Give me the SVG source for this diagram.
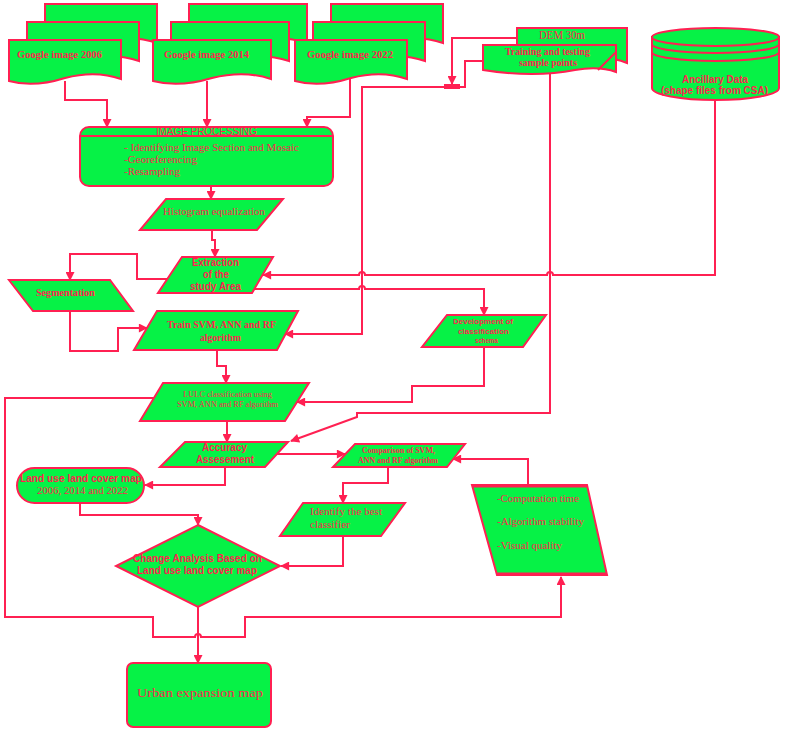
<svg xmlns="http://www.w3.org/2000/svg" xmlns:xlink="http://www.w3.org/1999/xlink" width="789" height="734" viewBox="0 0 789 734">
<style>
.n{fill:#06F246;stroke:#FF2052;stroke-width:2;stroke-linejoin:miter}
.c{fill:none;stroke:#FF2052;stroke-width:2}
.t{fill:#FF1F4F}
.sb{font-family:"Liberation Serif","Times New Roman",serif;font-weight:bold}
.sr{font-family:"Liberation Serif","Times New Roman",serif}
.ab{font-family:"Liberation Sans",Arial,sans-serif;font-weight:bold}
.ar{font-family:"Liberation Sans",Arial,sans-serif}
</style>
<defs>
<marker id="ah" viewBox="0 0 10 10" refX="9" refY="5" markerWidth="10" markerHeight="9" markerUnits="userSpaceOnUse" orient="auto">
<path d="M0,0 L10,5 L0,10 Z" fill="#FF2052"/>
</marker>
<path id="doc112" d="M0,0 H112 V39 C95,33 75,33 56,38 C37,44 18,46 0,41 Z"/>
<path id="doc118" d="M0,0 H118 V39 C100,33 79,33 59,38 C39,44 19,46 0,41 Z"/>
</defs>

<g id="connectors">
<path class="c" d="M65,81 V100 H107 V127" marker-end="url(#ah)"/>
<path class="c" d="M207,81 V127" marker-end="url(#ah)"/>
<path class="c" d="M350,78 V117 H307 V127" marker-end="url(#ah)"/>
<path class="c" d="M211,186 V199" marker-end="url(#ah)"/>
<path class="c" d="M212,230 V240 H215 V257" marker-end="url(#ah)"/>
<path class="c" d="M167,279 H137 V254 H70 V280" marker-end="url(#ah)"/>
<path class="c" d="M70,311 V351 H118 V328 H147" marker-end="url(#ah)"/>
<path class="c" d="M715,100 V275 H553 a3,3 0 0 0 -6,0 H365 a3,3 0 0 0 -6,0 H263" marker-end="url(#ah)"/>
<path class="c" d="M254,289 H359 a3,3 0 0 1 6,0 H484 V315" marker-end="url(#ah)"/>
<path class="c" d="M517,38 H452 V84" marker-end="url(#ah)"/>
<path class="c" d="M483,61 H465 V87 H459"/>
<rect x="444" y="84" width="16" height="5" fill="#FF2052"/>
<path class="c" d="M444,87 H362 V334 H285" marker-end="url(#ah)"/>
<path class="c" d="M217,350 V366 H226 V383" marker-end="url(#ah)"/>
<path class="c" d="M484,347 V386 H412 V402 H297" marker-end="url(#ah)"/>
<path class="c" d="M550,72 V413 H357 V417 L291,441" marker-end="url(#ah)"/>
<path class="c" d="M227,421 V442" marker-end="url(#ah)"/>
<path class="c" d="M154,398 H5 V617 H153 V637 H195 a3,3 0 0 1 6,0 H245 V617 H561 V577" marker-end="url(#ah)"/>
<path class="c" d="M277,454 H345" marker-end="url(#ah)"/>
<path class="c" d="M225,467 V485 H145" marker-end="url(#ah)"/>
<path class="c" d="M80,503 V515 H198 V525" marker-end="url(#ah)"/>
<path class="c" d="M388,467 V483 H343 V503" marker-end="url(#ah)"/>
<path class="c" d="M343,536 V566 H281" marker-end="url(#ah)"/>
<path class="c" d="M528,485 V459 H453" marker-end="url(#ah)"/>
<path class="c" d="M198,607 V663" marker-end="url(#ah)"/>
</g>

<g id="google2006">
<use xlink:href="#doc112" class="n" x="45" y="4"/>
<use xlink:href="#doc112" class="n" x="27" y="22"/>
<use xlink:href="#doc112" class="n" x="9" y="40"/>
<text class="t sb" x="17" y="58" font-size="11" textLength="85" lengthAdjust="spacingAndGlyphs">Google image 2006</text>
</g>
<g id="google2014">
<use xlink:href="#doc118" class="n" x="189" y="4"/>
<use xlink:href="#doc118" class="n" x="171" y="22"/>
<use xlink:href="#doc118" class="n" x="153" y="40"/>
<text class="t sb" x="164" y="58" font-size="11" textLength="85" lengthAdjust="spacingAndGlyphs">Google image 2014</text>
</g>
<g id="google2022">
<use xlink:href="#doc112" class="n" x="331" y="4"/>
<use xlink:href="#doc112" class="n" x="313" y="22"/>
<use xlink:href="#doc112" class="n" x="295" y="40"/>
<text class="t sb" x="307" y="58" font-size="11" textLength="86" lengthAdjust="spacingAndGlyphs">Google image 2022</text>
</g>

<g id="dem">
<path class="n" d="M517,28 H627 V63 C620,60 612,58 600,58 L517,58 Z"/>
<text class="t sr" x="539" y="39" font-size="12" textLength="46" lengthAdjust="spacingAndGlyphs">DEM 30m</text>
</g>
<g id="training">
<path class="n" d="M483,45 H616 V72 C605,68 592,67 575,70 C545,76 515,75 483,70 Z"/>
<path class="c" d="M598,70 L616,52"/>
<text class="t sb" x="505" y="55" font-size="10" textLength="85" lengthAdjust="spacingAndGlyphs">Training and testing</text>
<text class="t sb" x="519" y="66" font-size="10" textLength="58" lengthAdjust="spacingAndGlyphs">sample points</text>
</g>

<g id="ancillary">
<path class="n" d="M652,37 V88 A63.5,12 0 0 0 779,88 V37 Z"/>
<ellipse class="n" cx="715.5" cy="37" rx="63.5" ry="9"/>
<path class="c" d="M652,44 A63.5,9 0 0 0 779,44"/>
<path class="c" d="M652,52 A63.5,9 0 0 0 779,52"/>
<text class="t ab" x="682" y="83" font-size="10" textLength="66" lengthAdjust="spacingAndGlyphs">Ancillary Data</text>
<text class="t ab" x="661" y="94" font-size="10" textLength="107" lengthAdjust="spacingAndGlyphs">(shape files from CSA)</text>
</g>

<g id="imageprocessing">
<rect class="n" x="80" y="127" width="253" height="59" rx="9"/>
<path class="c" d="M80,136 H333" stroke-width="1.5"/>
<text class="t ar" x="156" y="135" font-size="10" textLength="101" lengthAdjust="spacingAndGlyphs">IMAGE PROCESSING</text>
<text class="t sr" x="124" y="151" font-size="11" textLength="175" lengthAdjust="spacingAndGlyphs">- Identifying Image Section and Mosaic</text>
<text class="t sr" x="124" y="163" font-size="11" textLength="73" lengthAdjust="spacingAndGlyphs">-Georeferencing</text>
<text class="t sr" x="124" y="175" font-size="11" textLength="56" lengthAdjust="spacingAndGlyphs">-Resampling</text>
</g>

<g id="histogram">
<polygon class="n" points="166,199 283,199 257,230 140,230"/>
<text class="t sr" x="163" y="215" font-size="11" textLength="102" lengthAdjust="spacingAndGlyphs">Histogram equalization</text>
</g>

<g id="extraction">
<polygon class="n" points="182,257 273,257 252,293 158,293"/>
<text class="t ab" x="192" y="266" font-size="10" textLength="47" lengthAdjust="spacingAndGlyphs">Extraction</text>
<text class="t ab" x="203" y="278" font-size="10" textLength="26" lengthAdjust="spacingAndGlyphs">of the</text>
<text class="t ab" x="190" y="290" font-size="10" textLength="51" lengthAdjust="spacingAndGlyphs">study Area</text>
</g>

<g id="segmentation">
<polygon class="n" points="9,280 110,280 133,311 33,311"/>
<text class="t sb" x="36" y="296" font-size="11" textLength="59" lengthAdjust="spacingAndGlyphs">Segmentation</text>
</g>

<g id="train">
<polygon class="n" points="157,311 298,311 277,350 134,350"/>
<text class="t sb" x="167" y="328" font-size="10" textLength="109" lengthAdjust="spacingAndGlyphs">Train SVM, ANN and RF</text>
<text class="t sb" x="200" y="341" font-size="10" textLength="41" lengthAdjust="spacingAndGlyphs">algorithm</text>
</g>

<g id="development">
<polygon class="n" points="447,315 546,315 523,347 422,347"/>
<text class="t ab" x="453" y="324" font-size="8" textLength="60" lengthAdjust="spacingAndGlyphs">Development of</text>
<text class="t ab" x="458" y="334" font-size="8" textLength="51" lengthAdjust="spacingAndGlyphs">classification</text>
<text class="t ab" x="475" y="343" font-size="8" textLength="23" lengthAdjust="spacingAndGlyphs">schema</text>
</g>

<g id="lulc">
<polygon class="n" points="163,383 309,383 285,421 140,421"/>
<text class="t sr" x="183" y="397" font-size="9" textLength="89" lengthAdjust="spacingAndGlyphs">LULC classification using</text>
<text class="t sr" x="177" y="407" font-size="9" textLength="101" lengthAdjust="spacingAndGlyphs">SVM, ANN and RF algorithm</text>
</g>

<g id="accuracy">
<polygon class="n" points="185,442 288,442 265,467 160,467"/>
<text class="t ab" x="202" y="451" font-size="10.5" textLength="45" lengthAdjust="spacingAndGlyphs">Accuracy</text>
<text class="t ab" x="196" y="463" font-size="10.5" textLength="58" lengthAdjust="spacingAndGlyphs">Assesement</text>
</g>

<g id="landuse">
<rect class="n" x="17" y="468" width="127" height="35" rx="17.5"/>
<text class="t ab" x="20" y="482" font-size="10.5" textLength="122" lengthAdjust="spacingAndGlyphs">Land use land cover map</text>
<text class="t sr" x="37" y="494" font-size="11" textLength="91" lengthAdjust="spacingAndGlyphs">2006, 2014 and 2022</text>
</g>

<g id="comparison">
<polygon class="n" points="355,444 465,444 447,467 333,467"/>
<text class="t sb" x="362" y="453" font-size="8" textLength="73" lengthAdjust="spacingAndGlyphs">Comparison of SVM,</text>
<text class="t sb" x="358" y="463" font-size="8" textLength="80" lengthAdjust="spacingAndGlyphs">ANN and RF algorithm</text>
</g>

<g id="criteria">
<polygon class="n" points="472,485 587,485 607,575 497,575"/>
<path class="c" d="M472,486.5 H587 M497,573.5 H607" stroke-width="4"/>
<text class="t sr" x="497" y="502" font-size="11" textLength="82" lengthAdjust="spacingAndGlyphs">-Computation time</text>
<text class="t sr" x="497" y="525" font-size="11" textLength="87" lengthAdjust="spacingAndGlyphs">-Algorithm stability</text>
<text class="t sr" x="497" y="549" font-size="11" textLength="65" lengthAdjust="spacingAndGlyphs">-Visual quality</text>
</g>

<g id="identify">
<polygon class="n" points="303,503 405,503 381,536 280,536"/>
<text class="t sr" x="310" y="515" font-size="11" textLength="72" lengthAdjust="spacingAndGlyphs">Identify the best</text>
<text class="t sr" x="310" y="528" font-size="11" textLength="40" lengthAdjust="spacingAndGlyphs">classifier</text>
</g>

<g id="change">
<polygon class="n" points="198,525 280,566 198,607 116,566"/>
<text class="t ab" x="133" y="562" font-size="10" textLength="129" lengthAdjust="spacingAndGlyphs">Change Analysis Based on</text>
<text class="t ab" x="137" y="574" font-size="10" textLength="120" lengthAdjust="spacingAndGlyphs">Land use land cover map</text>
</g>

<g id="urban">
<rect class="n" x="127" y="663" width="144" height="64" rx="6"/>
<text class="t sr" x="137" y="697" font-size="13" textLength="126" lengthAdjust="spacingAndGlyphs">Urban expansion map</text>
</g>
</svg>
